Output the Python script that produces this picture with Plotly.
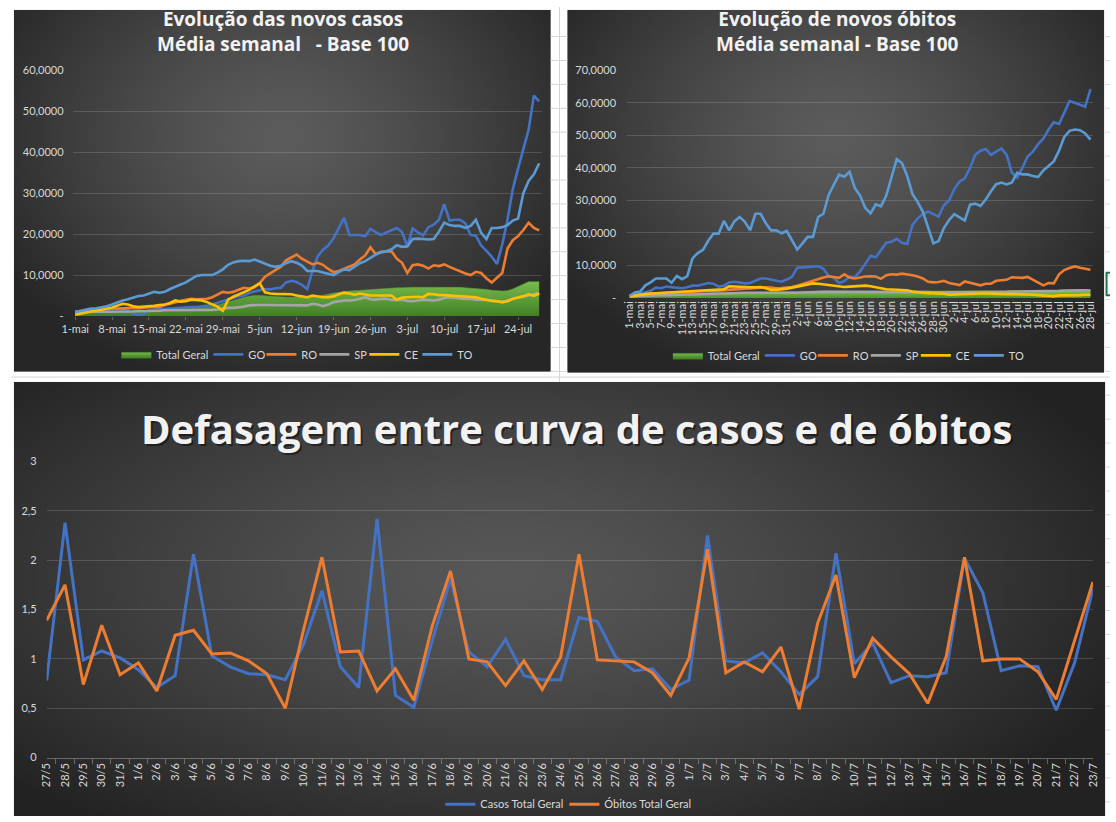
import zlib, struct, base64
import numpy as np
import plotly.graph_objects as go

W, H = 1116, 822

# ---------------- data: top-left (novos casos, média semanal, base 100) ----------------
days = list(range(89))  # 1-mai .. 28-jul
casos_tick_pos = [0, 7, 14, 21, 28, 35, 42, 49, 56, 63, 70, 77, 84]
casos_tick_text = ["1-mai", "8-mai", "15-mai", "22-mai", "29-mai", "5-jun", "12-jun",
                   "19-jun", "26-jun", "3-jul", "10-jul", "17-jul", "24-jul"]

total_c = [1.0, 1.0, 1.0, 1.0, 1.1, 1.1, 1.1, 1.2, 1.2, 1.2,
           1.3, 1.3, 1.3, 1.4, 1.4, 1.5, 1.5, 1.6, 1.6, 1.7,
           1.7, 1.8, 1.9, 2.0, 2.1, 2.2, 2.4, 2.7, 3.0, 3.4,
           3.8, 4.2, 4.5, 4.8, 5.0, 5.0, 4.9, 4.8, 4.7, 4.7,
           4.6, 4.6, 4.6, 4.6, 4.6, 4.7, 4.8, 5.0, 5.3, 5.6,
           5.8, 6.0, 6.1, 6.2, 6.3, 6.4, 6.5, 6.6, 6.7, 6.8,
           6.8, 6.9, 6.9, 7.0, 7.0, 7.0, 7.0, 7.0, 7.0, 7.0,
           7.1, 7.1, 7.0, 7.0, 6.9, 6.8, 6.8, 6.7, 6.5, 6.3,
           6.2, 6.1, 6.2, 6.6, 7.2, 7.8, 8.4, 8.4, 8.4]
go_c = [1.0, 1.1, 1.2, 1.3, 1.4, 1.5, 1.5, 1.6, 1.7, 1.6,
        1.4, 0.6, 0.2, 0.5, 1.5, 1.6, 1.7, 1.8, 1.9, 2.0,
        2.0, 2.1, 2.2, 2.2, 2.3, 2.5, 2.8, 3.2, 3.6, 4.0,
        4.4, 4.8, 5.0, 5.6, 6.0, 6.3, 6.6, 6.5, 6.8, 6.9,
        8.2, 8.6, 8.3, 7.6, 6.6, 11.0, 14.6, 16.2, 17.2, 19.0,
        21.5, 24.0, 19.8, 19.8, 19.8, 19.5, 21.3, 20.5, 19.8, 20.4,
        21.0, 21.5, 20.5, 17.0, 21.4, 20.4, 19.7, 21.7, 22.3, 23.5,
        27.3, 23.3, 23.5, 23.5, 22.6, 19.8, 19.6, 17.2, 15.9, 14.5,
        12.7, 17.5, 23.5, 31.0, 36.0, 40.5, 45.5, 53.8, 52.4]
ro_c = [1.0, 1.1, 1.3, 1.5, 1.6, 1.8, 1.9, 1.9, 1.8, 1.9,
        1.9, 2.0, 1.9, 2.0, 2.2, 2.3, 2.2, 2.7, 3.0, 3.4,
        3.7, 4.0, 4.2, 4.1, 4.2, 4.2, 4.6, 5.3, 5.9, 5.7,
        5.9, 6.4, 6.9, 6.7, 7.0, 8.0, 9.6, 10.4, 11.2, 12.0,
        13.6, 14.2, 15.0, 14.0, 13.3, 12.6, 13.0, 12.5, 11.5, 10.7,
        11.0, 11.6, 12.2, 12.6, 13.8, 14.8, 16.8, 15.1, 15.7, 15.8,
        15.8, 14.0, 13.0, 10.5, 12.4, 12.6, 12.3, 11.6, 12.4, 12.2,
        12.6, 12.0, 11.4, 10.9, 10.4, 10.0, 10.8, 10.5, 9.2, 8.2,
        9.3, 10.5, 16.5, 18.5, 19.5, 21.0, 22.8, 21.5, 20.9]
sp_c = [1.0, 1.0, 1.0, 1.0, 1.0, 1.1, 1.1, 1.1, 1.1, 1.1,
        1.1, 1.1, 1.2, 1.2, 1.3, 1.3, 1.3, 1.4, 1.4, 1.4,
        1.4, 1.4, 1.4, 1.4, 1.4, 1.5, 1.5, 1.6, 1.8, 2.0,
        2.0, 2.1, 2.3, 2.6, 2.7, 2.7, 2.7, 2.7, 2.6, 2.6,
        2.6, 2.7, 2.6, 2.6, 2.6, 3.0, 2.8, 2.4, 2.8, 3.4,
        3.6, 3.8, 3.8, 3.9, 4.2, 4.6, 4.1, 4.0, 4.2, 4.2,
        3.9, 4.0, 4.0, 3.7, 3.6, 3.8, 4.0, 3.9, 3.8, 4.0,
        4.4, 4.6, 4.4, 4.3, 4.2, 4.2, 4.0, 4.0, 3.9, 3.8,
        3.6, 3.4, 3.8, 4.2, 4.5, 4.8, 5.1, 5.3, 5.6]
ce_c = [0.3, 0.6, 0.9, 1.1, 1.3, 1.5, 1.8, 2.1, 2.6, 3.0,
        2.8, 2.4, 2.2, 2.3, 2.3, 2.5, 2.7, 2.8, 3.2, 3.8,
        3.5, 3.6, 4.0, 3.9, 3.8, 3.4, 2.8, 2.3, 1.3, 4.0,
        4.7, 5.2, 5.8, 6.4, 7.2, 8.0, 5.8, 5.5, 5.4, 5.4,
        5.3, 5.3, 5.0, 4.8, 4.6, 5.0, 4.8, 4.6, 4.6, 4.8,
        5.3, 5.7, 5.5, 5.2, 5.5, 5.2, 5.0, 5.0, 5.0, 4.9,
        5.0, 4.0, 4.5, 4.6, 4.7, 4.7, 4.6, 5.4, 5.3, 5.1,
        5.1, 5.0, 5.0, 4.9, 4.8, 4.6, 4.6, 4.2, 3.9, 3.7,
        3.6, 3.4, 3.6, 4.2, 4.5, 4.8, 5.3, 4.9, 5.5]
to_c = [1.0, 1.3, 1.6, 1.8, 1.9, 2.1, 2.4, 2.8, 3.3, 3.8,
        4.1, 4.5, 4.9, 5.0, 5.5, 5.9, 5.7, 5.9, 6.6, 7.2,
        7.7, 8.2, 8.9, 9.8, 10.0, 10.0, 10.0, 10.6, 11.4, 12.5,
        13.1, 13.4, 13.5, 13.4, 13.8, 13.3, 12.8, 12.3, 12.0, 12.3,
        12.9, 13.4, 13.0, 12.3, 11.0, 11.0, 11.0, 10.6, 10.3, 10.0,
        10.7, 11.4, 11.2, 12.0, 12.9, 13.4, 14.2, 15.0, 15.5, 15.8,
        16.3, 17.3, 16.9, 17.0, 18.8, 18.9, 18.8, 18.7, 18.8, 20.6,
        22.8, 22.2, 22.0, 22.0, 21.5, 22.0, 23.5, 20.3, 18.8, 21.5,
        21.5, 21.7, 22.2, 23.3, 23.8, 30.0, 33.0, 34.6, 37.3]

# ---------------- data: top-right (novos óbitos, média semanal, base 100) ----------------
obitos_tick_pos = list(range(0, 89, 2))
obitos_tick_text = ["1-mai", "3-mai", "5-mai", "7-mai", "9-mai", "11-mai", "13-mai", "15-mai",
                    "17-mai", "19-mai", "21-mai", "23-mai", "25-mai", "27-mai", "29-mai", "31-mai",
                    "2-jun", "4-jun", "6-jun", "8-jun", "10-jun", "12-jun", "14-jun", "16-jun",
                    "18-jun", "20-jun", "22-jun", "24-jun", "26-jun", "28-jun", "30-jun",
                    "2-jul", "4-jul", "6-jul", "8-jul", "10-jul", "12-jul", "14-jul", "16-jul",
                    "18-jul", "20-jul", "22-jul", "24-jul", "26-jul", "28-jul"]

total_o = [0.8, 0.9, 1.0, 1.0, 1.1, 1.1, 1.2, 1.2, 1.2, 1.3,
           1.3, 1.3, 1.4, 1.4, 1.4, 1.5, 1.5, 1.5, 1.6, 1.6,
           1.6, 1.7, 1.7, 1.7, 1.7, 1.8, 1.8, 1.8, 1.8, 1.8,
           1.8, 1.9, 1.9, 2.0, 2.0, 2.0, 2.1, 2.1, 2.1, 2.1,
           2.1, 2.1, 2.1, 2.1, 2.1, 2.1, 2.1, 2.1, 2.1, 2.1,
           2.1, 2.1, 2.1, 2.0, 2.0, 2.0, 2.0, 2.0, 2.0, 2.0,
           2.0, 2.0, 2.0, 2.0, 2.0, 2.0, 2.0, 2.0, 2.0, 2.1,
           2.1, 2.1, 2.1, 2.1, 2.2, 2.2, 2.3, 2.4, 2.3, 2.2,
           2.2, 2.2, 2.2, 2.3, 2.4, 2.5, 2.6, 2.6, 2.5]
go_o = [0.4, 0.8, 1.3, 1.8, 2.2, 3.2, 3.0, 3.5, 3.3, 3.2,
        3.0, 3.3, 3.8, 3.8, 4.2, 4.6, 4.4, 3.5, 3.8, 4.8,
        5.0, 4.8, 4.5, 4.6, 5.3, 6.0, 6.0, 5.6, 5.2, 5.0,
        5.7, 6.5, 9.3, 9.3, 9.5, 9.7, 9.8, 9.0, 6.8, 6.2,
        4.6, 5.2, 6.6, 6.4, 8.2, 10.5, 13.0, 12.5, 14.8, 17.0,
        17.3, 18.2, 17.0, 16.6, 22.5, 24.5, 25.8, 26.6, 25.8, 25.0,
        28.5, 30.0, 33.5, 35.8, 36.8, 40.0, 44.0, 45.3, 45.8, 44.0,
        45.0, 46.0, 44.0, 38.5, 37.0, 40.0, 43.5, 45.0, 47.3, 49.0,
        51.8, 54.0, 53.5, 57.0, 60.5, 60.0, 59.5, 58.8, 64.2]
ro_o = [0.8, 1.0, 1.1, 1.2, 1.3, 1.4, 1.5, 1.6, 1.7, 1.8,
        1.9, 2.0, 2.0, 2.1, 2.1, 2.2, 2.2, 2.3, 2.4, 2.5,
        2.7, 2.8, 3.0, 3.1, 3.2, 3.2, 3.3, 3.2, 3.0, 3.1,
        3.2, 3.4, 3.8, 4.3, 5.0, 5.5, 6.0, 6.3, 6.7, 6.5,
        6.2, 7.3, 6.3, 6.0, 6.4, 6.6, 6.7, 6.6, 5.9, 7.0,
        7.3, 7.2, 7.5, 7.3, 7.0, 6.6, 6.0, 5.0, 4.8, 4.9,
        5.3, 4.6, 4.3, 4.0, 5.1, 4.7, 4.2, 3.9, 4.4, 4.4,
        5.3, 5.4, 5.6, 6.4, 6.3, 6.2, 6.5, 5.6, 4.8, 3.9,
        4.6, 4.5, 7.3, 8.6, 9.2, 9.7, 9.3, 9.0, 8.7]
sp_o = [0.5, 0.6, 0.7, 0.7, 0.8, 0.8, 0.9, 0.9, 1.0, 1.0,
        1.0, 1.1, 1.1, 1.2, 1.2, 1.3, 1.3, 1.4, 1.4, 1.5,
        1.5, 1.6, 1.6, 1.6, 1.6, 1.6, 1.5, 1.5, 1.5, 1.4,
        1.4, 1.5, 1.6, 1.7, 1.8, 1.9, 1.9, 1.9, 1.9, 1.9,
        1.9, 1.9, 1.9, 1.9, 1.9, 1.9, 1.9, 1.9, 1.9, 1.9,
        2.0, 2.0, 2.0, 2.0, 1.9, 1.9, 1.8, 1.8, 1.7, 1.7,
        1.7, 1.7, 1.7, 1.7, 1.7, 1.8, 1.8, 1.8, 1.8, 1.8,
        1.9, 1.9, 1.9, 2.0, 2.0, 2.1, 2.2, 2.2, 2.2, 2.1,
        2.1, 2.2, 2.2, 2.3, 2.4, 2.4, 2.4, 2.4, 2.3]
ce_o = [0.5, 0.8, 1.0, 1.2, 1.4, 1.5, 1.6, 1.7, 1.7, 1.8,
        1.9, 1.9, 2.0, 2.2, 2.3, 2.4, 2.5, 2.6, 2.7, 3.6,
        3.5, 3.4, 3.2, 3.3, 3.3, 3.4, 3.0, 2.5, 2.5, 2.6,
        2.9, 3.2, 3.5, 3.8, 4.2, 4.5, 4.4, 4.2, 4.0, 3.9,
        3.6, 3.4, 3.5, 3.6, 3.5, 3.8, 3.6, 3.3, 2.9, 2.7,
        2.6, 2.5, 2.5, 2.4, 2.0, 1.7, 1.6, 1.5, 1.5, 1.5,
        1.3, 1.0, 1.1, 1.2, 1.3, 1.3, 1.4, 1.4, 1.4, 1.3,
        1.3, 1.2, 1.2, 1.2, 1.2, 1.1, 1.0, 1.0, 0.9, 0.8,
        0.6, 0.6, 0.8, 0.8, 0.7, 0.8, 0.9, 1.0, 1.0]
to_o = [0.7, 1.7, 2.0, 3.9, 4.8, 6.0, 6.0, 6.0, 4.7, 6.8,
        5.8, 6.7, 12.2, 13.8, 14.8, 17.6, 19.8, 19.8, 23.7, 20.8,
        23.6, 24.9, 23.4, 20.8, 25.9, 25.9, 23.0, 20.8, 20.8, 19.9,
        20.6, 17.6, 14.9, 16.8, 18.8, 18.8, 24.9, 25.9, 31.7, 34.9,
        37.9, 37.3, 38.8, 33.8, 31.5, 27.7, 26.0, 28.8, 28.2, 31.5,
        36.8, 42.7, 41.5, 37.5, 32.0, 29.5, 26.5, 21.5, 16.8, 17.5,
        21.5, 24.0, 25.8, 24.8, 23.8, 28.7, 29.0, 28.3, 30.3, 32.8,
        35.0, 35.5, 34.9, 35.5, 38.5, 38.0, 38.0, 37.5, 37.2, 39.2,
        40.5, 42.0, 45.3, 49.5, 51.4, 51.8, 51.6, 50.6, 48.7]

# ---------------- data: bottom (defasagem) ----------------
def_labels = ["27/5", "28/5", "29/5", "30/5", "31/5",
              "1/6", "2/6", "3/6", "4/6", "5/6", "6/6", "7/6", "8/6", "9/6", "10/6",
              "11/6", "12/6", "13/6", "14/6", "15/6", "16/6", "17/6", "18/6", "19/6", "20/6",
              "21/6", "22/6", "23/6", "24/6", "25/6", "26/6", "27/6", "28/6", "29/6", "30/6",
              "1/7", "2/7", "3/7", "4/7", "5/7", "6/7", "7/7", "8/7", "9/7", "10/7",
              "11/7", "12/7", "13/7", "14/7", "15/7", "16/7", "17/7", "18/7", "19/7", "20/7",
              "21/7", "22/7", "23/7"]
casos_def = [0.78, 2.38, 0.99, 1.08, 1.01, 0.89, 0.71, 0.83, 2.06, 1.03,
             0.92, 0.85, 0.84, 0.79, 1.15, 1.69, 0.92, 0.71, 2.42, 0.63,
             0.51, 1.18, 1.81, 1.07, 0.92, 1.20, 0.83, 0.79, 0.79, 1.42,
             1.38, 1.02, 0.88, 0.90, 0.69, 0.785, 2.25, 0.98, 0.96, 1.06,
             0.87, 0.64, 0.82, 2.07, 0.95, 1.16, 0.76, 0.83, 0.82, 0.86,
             2.02, 1.67, 0.88, 0.93, 0.92, 0.48, 0.96, 1.71]
obitos_def = [1.39, 1.75, 0.74, 1.34, 0.84, 0.96, 0.675, 1.24, 1.29, 1.05,
              1.06, 0.98, 0.85, 0.50, 1.30, 2.03, 1.07, 1.08, 0.675, 0.90,
              0.58, 1.33, 1.89, 1.00, 0.97, 0.73, 0.98, 0.69, 1.02, 2.06,
              0.99, 0.98, 0.97, 0.86, 0.63, 1.01, 2.11, 0.86, 0.97, 0.87,
              1.12, 0.49, 1.36, 1.85, 0.81, 1.21, 1.02, 0.85, 0.55, 1.02,
              2.03, 0.98, 1.00, 1.00, 0.87, 0.59, 1.19, 1.78]

y_top_vals = [0, 10, 20, 30, 40, 50, 60]
y_top_text = ["-", "10,0000", "20,0000", "30,0000", "40,0000", "50,0000", "60,0000"]
y_right_vals = [0, 10, 20, 30, 40, 50, 60, 70]
y_right_text = ["-", "10,0000", "20,0000", "30,0000", "40,0000", "50,0000", "60,0000", "70,0000"]
y_def_vals = [0, 0.5, 1, 1.5, 2, 2.5, 3]
y_def_text = ["0", "0,5", "1", "1,5", "2", "2,5", "3"]

# ---------------- styling helpers ----------------
C_GO, C_RO, C_SP, C_CE, C_TO = "#4472C4", "#ED7D31", "#A5A5A5", "#FFC000", "#5B9BD5"
TXT = "#D9D9D9"
GRID = "rgba(255,255,255,0.15)"
FONT = "Lato"
TFONT = "Open Sans"
# legend entry text-widths (px) so that entries are spaced like the original legends
LW_STATES = {"Total Geral": 47, "GO": 8, "RO": 8, "SP": 5, "CE": 8, "TO": 14}


def gradient_uri(w, h, c_in, c_out, cx=0.5, cy=0.4, power=1.3):
    yy, xx = np.mgrid[0:h, 0:w]
    dx = (xx / (w - 1) - cx) / 0.62
    dy = (yy / (h - 1) - cy) / 0.72
    t = np.clip(np.sqrt(dx ** 2 + dy ** 2), 0, 1) ** power
    cin = np.array(c_in, float)
    cout = np.array(c_out, float)
    img = cin[None, None, :] * (1 - t[..., None]) + cout[None, None, :] * t[..., None]
    img = np.clip(img, 0, 255).astype(np.uint8)
    raw = b"".join(b"\x00" + img[r].tobytes() for r in range(h))

    def chunk(tag, data):
        return struct.pack(">I", len(data)) + tag + data + struct.pack(">I", zlib.crc32(tag + data) & 0xFFFFFFFF)

    png = (b"\x89PNG\r\n\x1a\n" + chunk(b"IHDR", struct.pack(">IIBBBBB", w, h, 8, 2, 0, 0, 0))
           + chunk(b"IDAT", zlib.compress(raw, 9)) + chunk(b"IEND", b""))
    return "data:image/png;base64," + base64.b64encode(png).decode()


def px_x(p):
    return p / W


def px_y(p):
    return 1 - p / H


fig = go.Figure()

# ---- top-left traces ----
fig.add_trace(go.Scatter(x=days, y=total_c, name="Total Geral", mode="lines", fill="tozeroy",
                         line=dict(width=0.5, color="#5f9e3a"),
                         fillgradient=dict(type="vertical", start=0, stop=8.5,
                                           colorscale=[[0, "#3c7a22"], [1, "#74b84a"]]),
                         legendwidth=LW_STATES["Total Geral"],
                         xaxis="x", yaxis="y", legend="legend"))
for nm, ys, col in [("GO", go_c, C_GO), ("RO", ro_c, C_RO), ("SP", sp_c, C_SP),
                    ("CE", ce_c, C_CE), ("TO", to_c, C_TO)]:
    fig.add_trace(go.Scatter(x=days, y=ys, name=nm, mode="lines", line=dict(width=2.6, color=col),
                             legendwidth=LW_STATES[nm], xaxis="x", yaxis="y", legend="legend"))

# ---- top-right traces ----
fig.add_trace(go.Scatter(x=days, y=total_o, name="Total Geral", mode="lines", fill="tozeroy",
                         line=dict(width=0.5, color="#5f9e3a"),
                         fillgradient=dict(type="vertical", start=0, stop=2.6,
                                           colorscale=[[0, "#3c7a22"], [1, "#74b84a"]]),
                         legendwidth=LW_STATES["Total Geral"],
                         xaxis="x2", yaxis="y2", legend="legend2"))
for nm, ys, col in [("GO", go_o, C_GO), ("RO", ro_o, C_RO), ("SP", sp_o, C_SP),
                    ("CE", ce_o, C_CE), ("TO", to_o, C_TO)]:
    fig.add_trace(go.Scatter(x=days, y=ys, name=nm, mode="lines", line=dict(width=2.6, color=col),
                             legendwidth=LW_STATES[nm], xaxis="x2", yaxis="y2", legend="legend2"))

# ---- bottom traces ----
fig.add_trace(go.Scatter(x=def_labels, y=casos_def, name="Casos Total Geral", mode="lines",
                         line=dict(width=3, color=C_GO), legendwidth=79,
                         xaxis="x3", yaxis="y3", legend="legend3"))
fig.add_trace(go.Scatter(x=def_labels, y=obitos_def, name="Óbitos Total Geral", mode="lines",
                         line=dict(width=3, color=C_RO), legendwidth=84,
                         xaxis="x3", yaxis="y3", legend="legend3"))

tickfont = dict(family=FONT, size=11, color=TXT)

# panels (pixel boxes)
panels = [
    (3, 3, 548, 370.5, (92, 92, 92), (38, 38, 38), 0.5, 0.35),
    (565, 3, 1110, 371.5, (92, 92, 92), (38, 38, 38), 0.5, 0.35),
    (3, 381, 1111, 822, (88, 88, 88), (34, 34, 34), 0.45, 0.45),
]
images = []
for x0, y0, x1, y1, cin, cout, cx, cy in panels:
    images.append(dict(source=gradient_uri(220, 160, cin, cout, cx, cy), xref="paper", yref="paper",
                       x=px_x(x0), y=px_y(y0), sizex=(x1 - x0) / W, sizey=(y1 - y0) / H,
                       xanchor="left", yanchor="top", sizing="stretch", layer="below"))

# spreadsheet cell lines visible in the gaps
shapes = []
cell_line = dict(color="#D4D4D4", width=1)
for k in range(16):
    yy = 30 + 24.3 * k
    if yy < 379:
        shapes.append(dict(type="line", xref="paper", yref="paper", x0=px_x(548), x1=px_x(565),
                           y0=px_y(yy), y1=px_y(yy), line=cell_line))
for k in range(34):
    yy = 30 + 24.3 * k
    shapes.append(dict(type="line", xref="paper", yref="paper", x0=px_x(1111), x1=1,
                       y0=px_y(yy), y1=px_y(yy), line=cell_line))
shapes.append(dict(type="line", xref="paper", yref="paper", x0=px_x(557), x1=px_x(557),
                   y0=px_y(0), y1=px_y(381), line=cell_line))
shapes.append(dict(type="line", xref="paper", yref="paper", x0=0, x1=1,
                   y0=px_y(376), y1=px_y(376), line=cell_line))
# Excel selected-cell marker at the right edge
shapes.append(dict(type="path", xref="paper", yref="paper",
                   path=f"M {px_x(1116)} {px_y(270)} L {px_x(1112.5)} {px_y(270)} "
                        f"L {px_x(1112.5)} {px_y(293)} L {px_x(1116)} {px_y(293)}",
                   line=dict(color="#217346", width=2)))

title_font = dict(family=TFONT, size=19, color="#F2F2F2")
annotations = [
    dict(text="<b>Evolução das novos casos<br>Média semanal&nbsp;&nbsp; - Base 100</b>", x=px_x(276),
         y=px_y(25), xref="paper", yref="paper", showarrow=False, xanchor="center", yanchor="middle",
         font=title_font, align="center"),
    dict(text="<b>Evolução de novos óbitos<br>Média semanal - Base 100</b>", x=px_x(839),
         y=px_y(25), xref="paper", yref="paper", showarrow=False, xanchor="center", yanchor="middle",
         font=title_font, align="center"),
    dict(text="<b>Defasagem entre curva de casos e de óbitos</b>", x=px_x(576.5), y=px_y(430),
         xref="paper", yref="paper", showarrow=False, xanchor="center", yanchor="middle",
         font=dict(family=TFONT, size=40, color="rgba(0,0,0,0.45)")),
    dict(text="<b>Defasagem entre curva de casos e de óbitos</b>", x=px_x(574.5), y=px_y(428),
         xref="paper", yref="paper", showarrow=False, xanchor="center", yanchor="middle",
         font=dict(family=TFONT, size=40, color="#F2F2F2")),
]

legend_common = dict(orientation="h", xanchor="left", yanchor="middle", bgcolor="rgba(0,0,0,0)",
                     font=dict(family=FONT, size=11, color=TXT), itemwidth=30, tracegroupgap=0)

fig.update_layout(
    width=W, height=H, margin=dict(l=0, r=0, t=0, b=0),
    paper_bgcolor="#FFFFFF", plot_bgcolor="rgba(0,0,0,0)",
    images=images, shapes=shapes, annotations=annotations,
    legend=dict(x=px_x(107), y=px_y(353), **legend_common),
    legend2=dict(x=px_x(667), y=px_y(354), **legend_common),
    legend3=dict(x=px_x(436), y=px_y(810), **legend_common),
    xaxis=dict(domain=[px_x(62.5), px_x(539)], range=[-0.5, 88.5], tickvals=casos_tick_pos,
               ticktext=casos_tick_text, tickfont=tickfont, showgrid=False, zeroline=False,
               ticks="outside", ticklen=3, tickcolor="rgba(255,255,255,0.25)", anchor="y"),
    yaxis=dict(domain=[px_y(314), px_y(64.3)], range=[0, 60], tickvals=y_top_vals, ticktext=y_top_text,
               tickfont=tickfont, gridcolor=GRID, zeroline=False, ticks="", ticklabelstandoff=8,
               anchor="x"),
    xaxis2=dict(domain=[px_x(625.6), px_x(1098.8)], range=[-0.5, 88.5], tickvals=obitos_tick_pos,
                ticktext=obitos_tick_text, tickangle=-90, tickfont=tickfont, showgrid=False,
                zeroline=False, anchor="y2"),
    yaxis2=dict(domain=[px_y(295.7), px_y(64.3)], range=[0, 70], tickvals=y_right_vals,
                ticktext=y_right_text, tickfont=tickfont, gridcolor=GRID, zeroline=False, ticks="",
                ticklabelstandoff=10, anchor="x2"),
    xaxis3=dict(domain=[px_x(36.2), px_x(1098.7)], type="category", tickangle=-90, tickfont=tickfont,
                showgrid=False, zeroline=False, showline=True, linecolor="rgba(255,255,255,0.3)",
                ticks="outside", ticklen=5, tickcolor="rgba(255,255,255,0.3)", tickson="boundaries",
                anchor="y3"),
    yaxis3=dict(domain=[px_y(762.7), px_y(461.7)], range=[0, 3], tickvals=y_def_vals, ticktext=y_def_text,
                tickfont=tickfont, gridcolor=GRID, zeroline=False, ticks="", ticklabelstandoff=9,
                anchor="x3"),
)

fig.write_html("out.html", config={"displayModeBar": False},
               post_script="document.body.style.margin='0';document.body.style.padding='0';")
